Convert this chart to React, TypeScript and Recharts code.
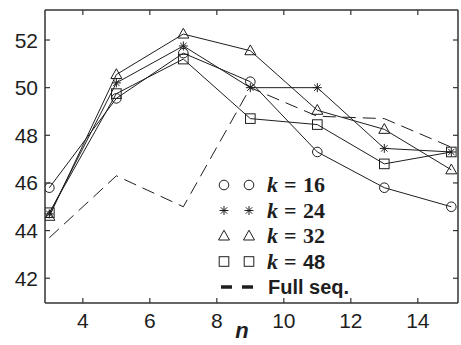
import { LineChart, Line, XAxis, YAxis, Legend } from 'recharts';

// window size n on the x axis, accuracy (%) on the y axis
const nValues = [3, 5, 7, 9, 11, 13, 15];
const k16 = [45.8, 49.55, 51.45, 50.25, 47.3, 45.8, 45.0];
const k24 = [44.7, 50.2, 51.75, 50.0, 50.0, 47.45, 47.3];
const k32 = [44.6, 50.55, 52.25, 51.55, 49.05, 48.25, 46.55];
const k48 = [44.75, 49.75, 51.2, 48.7, 48.45, 46.8, 47.3];
const fullSeq = [43.7, 46.3, 45.0, 50.0, 48.8, 48.7, 47.5];

const xTicks = [4, 6, 8, 10, 12, 14];
const yTicks = [42, 44, 46, 48, 50, 52];

const data = nValues.map((n, i) => ({
  n,
  k16: k16[i],
  k24: k24[i],
  k32: k32[i],
  k48: k48[i],
  full: fullSeq[i],
}));

const INK = '#1e1e1e';
const FRAME = '#333';
const SANS = '"Liberation Sans", Arial, sans-serif';
const SERIF = '"Liberation Serif", "Times New Roman", serif';

type Shape = 'circle' | 'star' | 'triangle' | 'square';

const drawMarker = (shape: Shape, cx: number, cy: number, key?: string) => {
  const p = { stroke: INK, strokeWidth: 1, fill: 'none' };
  if (shape === 'circle') return <circle key={key} cx={cx} cy={cy} r={4.8} {...p} />;
  if (shape === 'square') return <rect key={key} x={cx - 4.8} y={cy - 4.8} width={9.6} height={9.6} {...p} />;
  if (shape === 'triangle')
    return (
      <polygon
        key={key}
        points={`${cx},${cy - 5.8} ${cx - 5.5},${cy + 4} ${cx + 5.5},${cy + 4}`}
        {...p}
      />
    );
  const r = 4.5;
  const d = 3.2;
  return (
    <g key={key} {...p}>
      <line x1={cx} y1={cy - r} x2={cx} y2={cy + r} />
      <line x1={cx - r} y1={cy} x2={cx + r} y2={cy} />
      <line x1={cx - d} y1={cy - d} x2={cx + d} y2={cy + d} />
      <line x1={cx - d} y1={cy + d} x2={cx + d} y2={cy - d} />
    </g>
  );
};

const dotFor = (shape: Shape) => (props: any) =>
  drawMarker(shape, props.cx, props.cy, `${shape}-${props.index}`);

const BottomTick = (props: any) => {
  const { x, y, payload } = props;
  return (
    <g>
      <line x1={x} x2={x} y1={y} y2={y - 5} stroke={FRAME} strokeWidth={1.2} />
      <text x={x} y={y + 25} textAnchor="middle" fontSize={21} fill={INK} fontFamily={SANS}>
        {payload.value}
      </text>
    </g>
  );
};

const TopTick = (props: any) => {
  const { x, y } = props;
  return <line x1={x} x2={x} y1={y} y2={y + 5} stroke={FRAME} strokeWidth={1.2} />;
};

const LeftTick = (props: any) => {
  const { x, y, payload } = props;
  return (
    <g>
      <line x1={x} x2={x + 5} y1={y} y2={y} stroke={FRAME} strokeWidth={1.2} />
      <text x={x - 7} y={y + 7.5} textAnchor="end" fontSize={21} fill={INK} fontFamily={SANS}>
        {payload.value}
      </text>
    </g>
  );
};

const RightTick = (props: any) => {
  const { x, y } = props;
  return <line x1={x} x2={x - 5} y1={y} y2={y} stroke={FRAME} strokeWidth={1.2} />;
};

const legendRows: { shape: Shape | 'dash'; k?: string }[] = [
  { shape: 'circle', k: '16' },
  { shape: 'star', k: '24' },
  { shape: 'triangle', k: '32' },
  { shape: 'square', k: '48' },
  { shape: 'dash' },
];

const LegendBox = () => (
  <svg width={150} height={130} style={{ display: 'block' }}>
    {legendRows.map((row, i) => {
      const cy = 13 + i * 25.5;
      return (
        <g key={i}>
          {row.shape === 'dash' ? (
            <g stroke={INK} strokeWidth={3.5}>
              <line x1={6} x2={17} y1={cy} y2={cy} />
              <line x1={27} x2={38} y1={cy} y2={cy} />
            </g>
          ) : (
            <g>
              {drawMarker(row.shape, 9, cy)}
              {drawMarker(row.shape, 34, cy)}
            </g>
          )}
          {row.k ? (
            <text y={cy + 7} fontSize={22} fontWeight="bold" fill={INK} fontFamily={SERIF}>
              <tspan x={52} fontStyle="italic">k</tspan>
              <tspan x={69}>=</tspan>
              <tspan x={88} fontFamily={row.k === '48' ? SANS : SERIF} fontSize={row.k === '48' ? 20 : 22}>
                {row.k}
              </tspan>
            </text>
          ) : (
            <text x={53} y={cy + 7} fontSize={20} fontWeight="bold" fill={INK} fontFamily={SANS}>
              Full seq.
            </text>
          )}
        </g>
      );
    })}
  </svg>
);

const AxisName = (props: any) => {
  const vb = props.viewBox || { x: 45, y: 303, width: 413 };
  return (
    <text
      x={vb.x + vb.width * 0.477}
      y={vb.y + 35}
      textAnchor="middle"
      fontSize={22}
      fontWeight="bold"
      fontStyle="italic"
      fill={INK}
      fontFamily={SANS}
    >
      n
    </text>
  );
};

export default function App() {
  return (
    <div style={{ position: 'absolute', left: 0, top: 0, width: 461, height: 345, background: '#fff' }}>
      <LineChart width={461} height={345} data={data} margin={{ top: 9, right: 2, bottom: 41, left: 44 }}>
        <XAxis
          xAxisId="b"
          dataKey="n"
          type="number"
          domain={[2.87, 15.2]}
          allowDataOverflow
          ticks={xTicks}
          height={1}
          tickSize={0}
          tickMargin={0}
          tickLine={false}
          tick={<BottomTick />}
          axisLine={{ stroke: FRAME, strokeWidth: 1.5 }}
          label={<AxisName />}
        />
        <XAxis
          xAxisId="t"
          orientation="top"
          dataKey="n"
          type="number"
          domain={[2.87, 15.2]}
          allowDataOverflow
          ticks={xTicks}
          height={1}
          tickSize={0}
          tickMargin={0}
          tickLine={false}
          tick={<TopTick />}
          axisLine={{ stroke: FRAME, strokeWidth: 1.5 }}
        />
        <YAxis
          yAxisId="l"
          type="number"
          domain={[40.96, 53.26]}
          allowDataOverflow
          ticks={yTicks}
          width={1}
          tickSize={0}
          tickMargin={0}
          tickLine={false}
          tick={<LeftTick />}
          axisLine={{ stroke: FRAME, strokeWidth: 1.5 }}
        />
        <YAxis
          yAxisId="r"
          orientation="right"
          type="number"
          domain={[40.96, 53.26]}
          allowDataOverflow
          ticks={yTicks}
          width={1}
          tickSize={0}
          tickMargin={0}
          tickLine={false}
          tick={<RightTick />}
          axisLine={{ stroke: FRAME, strokeWidth: 1.5 }}
        />
        <Line xAxisId="b" yAxisId="l" dataKey="full" stroke={INK} strokeWidth={1} strokeDasharray="13 7" dot={false} isAnimationActive={false} />
        <Line xAxisId="b" yAxisId="l" dataKey="k16" stroke={INK} strokeWidth={1} dot={dotFor('circle')} isAnimationActive={false} />
        <Line xAxisId="b" yAxisId="l" dataKey="k24" stroke={INK} strokeWidth={1} dot={dotFor('star')} isAnimationActive={false} />
        <Line xAxisId="b" yAxisId="l" dataKey="k32" stroke={INK} strokeWidth={1} dot={dotFor('triangle')} isAnimationActive={false} />
        <Line xAxisId="b" yAxisId="l" dataKey="k48" stroke={INK} strokeWidth={1} dot={dotFor('square')} isAnimationActive={false} />
        <Legend
          layout="vertical"
          align="center"
          verticalAlign="middle"
          content={<LegendBox />}
          wrapperStyle={{ position: 'absolute', left: 215, top: 172, width: 150, height: 130 }}
        />
      </LineChart>
    </div>
  );
}
